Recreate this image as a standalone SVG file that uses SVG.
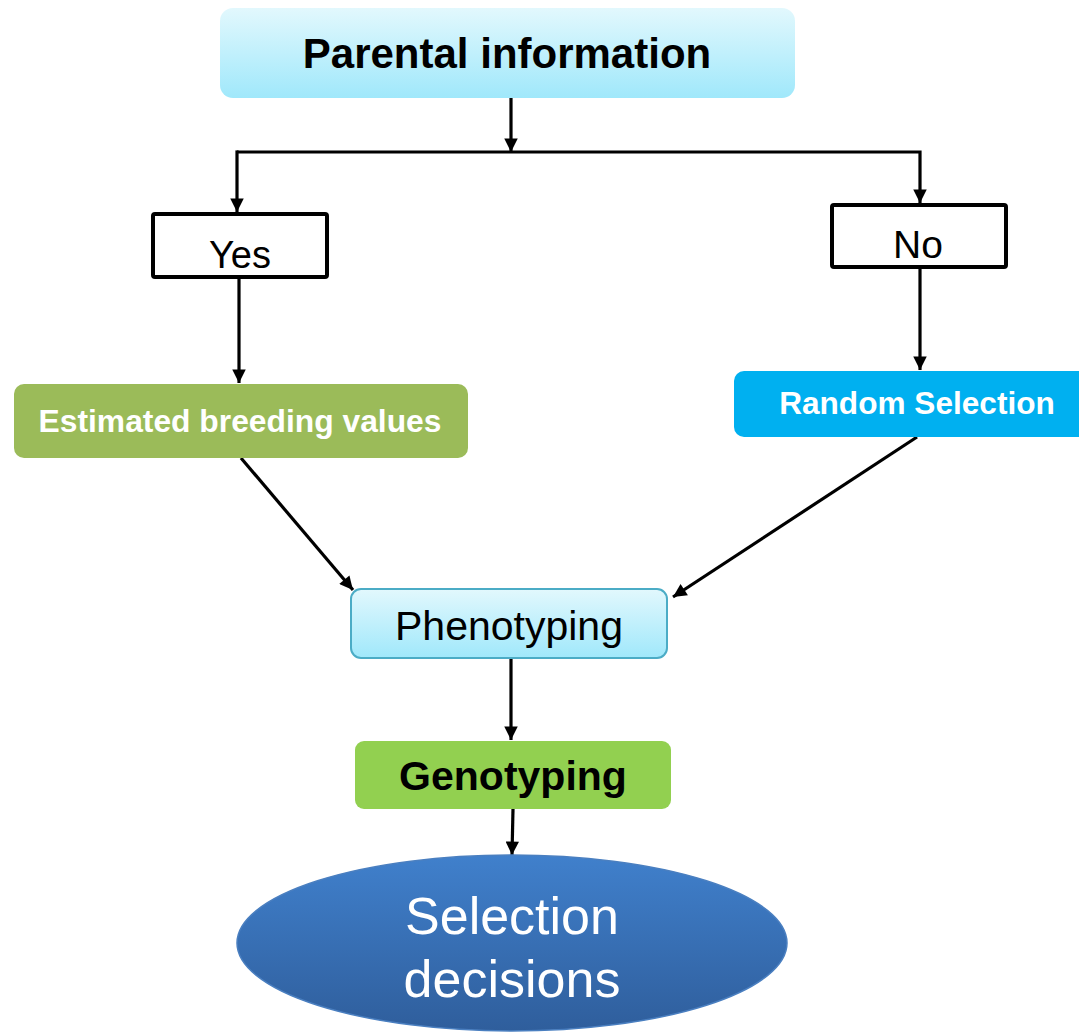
<svg xmlns="http://www.w3.org/2000/svg" width="1079" height="1033" viewBox="0 0 1079 1033">
<style>
  text { font-family: "Liberation Sans", Arial, sans-serif; text-anchor: middle; }
  .conn { fill: none; stroke: #000; stroke-width: 3.2; }
  .box { fill: #fff; stroke: #000; stroke-width: 4; }
</style>
<defs>
  <linearGradient id="cyan" x1="0" y1="0" x2="0" y2="1">
    <stop offset="0" stop-color="#e2f8fd"/>
    <stop offset="1" stop-color="#a0e8fb"/>
  </linearGradient>
  <linearGradient id="blue" x1="0" y1="0" x2="0" y2="1">
    <stop offset="0" stop-color="#4080cc"/>
    <stop offset="1" stop-color="#2f5e9c"/>
  </linearGradient>
  <marker id="arr" viewBox="0 0 10 10" refX="10" refY="5" markerWidth="4.5" markerHeight="4.2" orient="auto" markerUnits="strokeWidth">
    <path d="M0,0 L10,5 L0,10 z" fill="#000"/>
  </marker>
</defs>
<g id="connectors">
  <line class="conn" x1="511" y1="98" x2="511" y2="152" marker-end="url(#arr)"/>
  <polyline class="conn" points="237,152 920,152 920,203" marker-end="url(#arr)"/>
  <line class="conn" x1="237" y1="150.4" x2="237" y2="212" marker-end="url(#arr)"/>
  <line class="conn" x1="239" y1="278" x2="239" y2="383" marker-end="url(#arr)"/>
  <line class="conn" x1="920" y1="268" x2="920" y2="370" marker-end="url(#arr)"/>
  <line class="conn" x1="241" y1="458" x2="353" y2="590" marker-end="url(#arr)"/>
  <line class="conn" x1="917" y1="437" x2="673" y2="597" marker-end="url(#arr)"/>
  <line class="conn" x1="511" y1="658" x2="511" y2="740" marker-end="url(#arr)"/>
  <line class="conn" x1="513" y1="809" x2="512" y2="855" marker-end="url(#arr)"/>
</g>
<g id="parental">
  <rect x="220" y="8" width="575" height="90" rx="13" fill="url(#cyan)"/>
  <text x="507" y="68" font-size="42" font-weight="bold">Parental information</text>
</g>
<g id="yes">
  <rect class="box" x="153" y="214" width="174" height="63" rx="2"/>
  <text x="240" y="268" font-size="38">Yes</text>
</g>
<g id="no">
  <rect class="box" x="832" y="205" width="174" height="62" rx="2"/>
  <text x="918" y="258" font-size="39">No</text>
</g>
<g id="ebv">
  <rect x="14" y="384" width="454" height="74" rx="10" fill="#9bbb59"/>
  <text x="240" y="432" font-size="31.8" font-weight="bold" fill="#fff">Estimated breeding values</text>
</g>
<g id="random">
  <rect x="734" y="371" width="360" height="66" rx="10" fill="#00b0f0"/>
  <text x="917" y="414" font-size="31.6" font-weight="bold" fill="#fff">Random Selection</text>
</g>
<g id="phenotyping">
  <rect x="351" y="589" width="316" height="69" rx="10" fill="url(#cyan)" stroke="#4bacc6" stroke-width="2"/>
  <text x="509" y="640" font-size="41">Phenotyping</text>
</g>
<g id="genotyping">
  <rect x="355" y="741" width="316" height="68" rx="9" fill="#92d050"/>
  <text x="513" y="790" font-size="41" font-weight="bold">Genotyping</text>
</g>
<g id="selection">
  <ellipse cx="512" cy="943" rx="275" ry="88" fill="url(#blue)" stroke="#4a7fc0" stroke-width="1.5"/>
  <text x="512" y="934" font-size="52" fill="#fff">Selection</text>
  <text x="512" y="997" font-size="52" fill="#fff">decisions</text>
</g>
</svg>
